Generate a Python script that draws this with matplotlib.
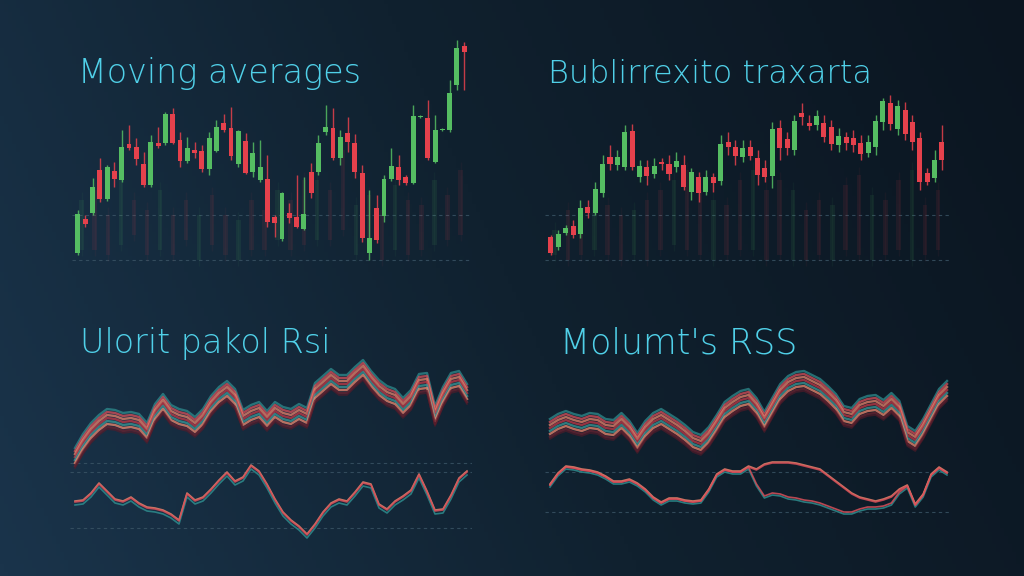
import numpy as np
import matplotlib
matplotlib.use("Agg")
import matplotlib.pyplot as plt
from matplotlib.colors import LinearSegmentedColormap

W, H = 1024, 576

# ---------------- data ----------------
titles = ["Moving averages", "Bublirrexito traxarta", "Ulorit pakol Rsi", "Molumt's RSS"]

# Panel 1 candles (open, close, high, low)
p1_open  = [47, 81, 87, 130, 101, 129, 120, 156, 153, 136, 115, 157, 157, 186, 160, 139, 150, 149, 131, 149,
            177, 172, 136, 159, 128, 120, 121, 83, 61, 87, 83, 71, 128, 128, 168, 172, 142, 167, 157, 127,
            47, 92, 84, 121, 133, 123, 117, 183, 182, 138, 170, 170, 215, 254]
p1_close = [86, 76, 113, 101, 133, 121, 153, 152, 141, 115, 158, 154, 186, 157, 139, 152, 147, 131, 162, 173,
            170, 144, 169, 127, 147, 133, 78, 77, 107, 82, 73, 86, 107, 157, 173, 142, 163, 158, 128, 62,
            62, 60, 121, 134, 120, 117, 184, 184, 142, 170, 171, 207, 252, 248]
p1_high  = [90, 85, 122, 142, 135, 138, 170, 175, 162, 148, 165, 173, 188, 192, 168, 163, 158, 155, 168, 180,
            186, 193, 170, 167, 158, 160, 145, 85, 108, 97, 125, 123, 137, 165, 195, 192, 170, 183, 166, 135,
            110, 105, 125, 152, 145, 125, 195, 185, 200, 185, 172, 220, 260, 258]
p1_low   = [45, 73, 85, 98, 99, 113, 118, 150, 135, 113, 113, 152, 155, 156, 133, 137, 142, 128, 125, 148,
            168, 140, 133, 126, 123, 118, 73, 63, 59, 77, 72, 70, 102, 125, 165, 140, 135, 148, 122, 58,
            40, 57, 78, 119, 115, 115, 116, 182, 140, 137, 169, 168, 210, 210]
p1_ghost_hi = [100, 110, 85, 120, 100, 90, 110, 85, 100, 85, 105, 85, 80, 100, 90, 110, 100, 120, 120, 110,
               150, 95, 105, 90, 115, 100, 95, 120, 105, 130]
p1_ghost_lo = [50, 50, 45, 55, 65, 45, 50, 45, 60, 40, 55, 45, 40, 50, 50, 60, 50, 55, 60, 60,
               70, 45, 55, 40, 50, 45, 50, 55, 60, 65]

# Panel 2 candles
p2_open  = [63, 53, 67, 74, 66, 93, 87, 107, 143, 135, 133, 169, 123, 133, 126, 138, 136, 133, 135, 108,
            123, 108, 123, 119, 158, 153, 143, 153, 142, 132, 124, 172, 161, 150, 187, 177, 175, 177, 173, 155,
            163, 162, 157, 147, 153, 178, 197, 171, 190, 178, 162, 127, 122, 158]
p2_close = [47, 66, 72, 65, 92, 87, 111, 136, 136, 143, 168, 133, 134, 124, 134, 136, 126, 139, 113, 128,
            107, 123, 117, 156, 153, 144, 152, 144, 125, 123, 171, 152, 152, 179, 183, 174, 184, 163, 156, 164,
            157, 155, 146, 158, 179, 199, 176, 194, 166, 158, 118, 118, 140, 140]
p2_high  = [65, 70, 75, 80, 100, 100, 118, 145, 155, 150, 175, 176, 140, 140, 142, 142, 145, 148, 145, 132,
            128, 130, 127, 165, 168, 160, 160, 160, 150, 140, 178, 180, 168, 185, 197, 185, 190, 185, 180, 172,
            168, 170, 165, 165, 185, 202, 205, 200, 198, 185, 168, 132, 150, 175]
p2_low   = [45, 50, 65, 62, 62, 82, 85, 103, 130, 130, 130, 130, 118, 115, 122, 130, 120, 128, 110, 100,
            98, 105, 108, 115, 145, 135, 138, 140, 115, 118, 112, 140, 145, 145, 175, 170, 170, 158, 150, 148,
            150, 148, 140, 143, 145, 170, 170, 165, 160, 150, 110, 115, 118, 130]
p2_ghost_hi = [70, 90, 85, 100, 95, 85, 90, 100, 110, 120, 130, 110, 100, 95, 120, 130, 110, 120, 110, 90,
               100, 95, 115, 125, 105, 100, 120, 130, 95, 110]
p2_ghost_lo = [45, 40, 45, 50, 45, 40, 45, 40, 50, 55, 50, 45, 40, 45, 50, 50, 40, 45, 40, 40,
               45, 40, 50, 45, 40, 45, 50, 40, 45, 50]

# Panel 3 (values = level units)
p3_band = [143, 157, 168, 176, 182, 181, 178, 179, 177, 168, 187, 197, 186, 182, 180, 174, 182, 195, 204, 210,
           202, 181, 186, 189, 180, 189, 184, 182, 187, 183, 208, 215, 222, 216, 216, 224, 231, 220, 211, 205,
           202, 193, 201, 217, 218, 185, 204, 218, 220, 207]
p3_osc  = [98, 99, 106, 116, 108, 100, 98, 102, 96, 92, 91, 89, 85, 79, 106, 99, 102, 110, 119, 127,
           118, 122, 134, 128, 115, 100, 87, 79, 73, 65, 75, 87, 96, 100, 98, 107, 117, 115, 95, 90,
           98, 103, 109, 125, 108, 89, 90, 104, 121, 128]
p3_levels = [137, 128, 72]

# Panel 4
p4_band = [172, 177, 180, 177, 175, 178, 177, 172, 171, 178, 170, 158, 170, 178, 182, 177, 172, 166, 159, 156,
           164, 176, 189, 195, 200, 202, 193, 179, 193, 207, 215, 219, 220, 216, 212, 205, 197, 185, 183, 192,
           195, 196, 191, 198, 190, 165, 160, 172, 187, 202, 210]
p4_osc_a = [115, 126, 133, 132, 130, 129, 127, 123, 118, 118, 120, 116, 110, 102, 97, 101, 101, 99, 98, 99,
            110, 125, 130, 128, 128, 133, 116, 104, 107, 106, 103, 102, 100, 99, 97, 94, 91, 88, 88, 91,
            93, 93, 94, 97, 108, 114, 95, 105, 125, 132, 127]
p4_osc_b = [115, 126, 133, 132, 130, 129, 127, 123, 118, 118, 120, 116, 110, 102, 97, 101, 101, 99, 98, 99,
            110, 125, 130, 128, 128, 133, 130, 135, 137, 137, 137, 136, 134, 132, 130, 124, 118, 112, 106, 102,
            100, 98, 100, 103, 110, 114, 95, 105, 125, 132, 127]
p4_levels = [128, 88]

# ---------------- style ----------------
GREEN = "#55bd62"
RED = "#e5414c"
TITLE = "#50d0e8"
GRID = "#3b5566"
BAND_COLORS = ["#2e8c8e", "#d8505a", "#e8846c", "#c23a48", "#3a9a9a", "#f08a70", "#6a2230"]
BAND_OFFS = [9, 6, 3, 0, -3, -6, -9]

plt.rcParams["font.family"] = ["DejaVu Sans"]

fig = plt.figure(figsize=(W / 100, H / 100), dpi=100)

# background gradient
bg = fig.add_axes([0, 0, 1, 1])
gx = np.linspace(0, 1, 256)[None, :]
gy = np.linspace(0, 1, 144)[:, None]
grad = 0.8 * gx + 0.2 * (1 - gy)
cmap = LinearSegmentedColormap.from_list("bg", ["#1a344b", "#10212f", "#0b1520"])
bg.imshow(grad, cmap=cmap, aspect="auto", extent=[0, 1, 0, 1], origin="upper")
bg.set_axis_off()


def px_axes(x0, y0, x1, y1):
    ax = fig.add_axes([x0 / W, 1 - y1 / H, (x1 - x0) / W, (y1 - y0) / H])
    ax.set_axis_off()
    ax.patch.set_alpha(0)
    return ax


def candles(ax, o, c, h, l, ghi, glo):
    n = len(o)
    gx_pos = np.linspace(0.5, n - 1.5, len(ghi))
    for i, (gh, gl) in enumerate(zip(ghi, glo)):
        col = RED if i % 3 else GREEN
        ax.bar(gx_pos[i], gh - gl, bottom=gl, width=0.6, color=col, alpha=0.09, zorder=1)
        ax.vlines(gx_pos[i], gl - 6, gh + 8, color=col, alpha=0.05, lw=1, zorder=1)
    for i in range(n):
        col = GREEN if c[i] >= o[i] else RED
        ax.vlines(i, l[i], h[i], color=col, lw=1.0, alpha=0.85, zorder=2)
        body = max(abs(c[i] - o[i]), 1.5)
        ax.bar(i, body, bottom=min(o[i], c[i]), width=0.68, color=col, zorder=3)


# Panel 1
ax1 = px_axes(72, 35, 470, 275)
candles(ax1, p1_open, p1_close, p1_high, p1_low, p1_ghost_hi, p1_ghost_lo)
ax1.set_xlim(-0.82, 53.8)
ax1.set_ylim(25, 265)
for lv in (85, 40):
    ax1.axhline(lv, color=GRID, lw=0.8, ls=(0, (3, 3)), alpha=0.8, zorder=0)

# Panel 2
ax2 = px_axes(545, 35, 950, 275)
candles(ax2, p2_open, p2_close, p2_high, p2_low, p2_ghost_hi, p2_ghost_lo)
ax2.set_xlim(-0.81, 54.09)
ax2.set_ylim(25, 265)
for lv in (85, 40):
    ax2.axhline(lv, color=GRID, lw=0.8, ls=(0, (3, 3)), alpha=0.8, zorder=0)


def band(ax, vals):
    t = np.arange(len(vals))
    v = np.asarray(vals, float)
    for off, col in zip(BAND_OFFS, BAND_COLORS):
        ax.plot(t, v + off, color=col, lw=1.7, alpha=0.75, solid_joinstyle="round")
    ax.plot(t, v - 11, color="#5a1a28", lw=1.2, alpha=0.6)


def osc(ax, vals, cols=("#2e8c8e", "#e8846c", "#d8505a"), offs=(-3, 1, 0)):
    t = np.arange(len(vals))
    v = np.asarray(vals, float)
    for off, col in zip(offs, cols):
        ax.plot(t, v + off, color=col, lw=1.2, alpha=0.85)


# Panel 3
ax3 = px_axes(70, 350, 472, 545)
band(ax3, p3_band)
osc(ax3, p3_osc)
for lv in p3_levels:
    ax3.axhline(lv, color=GRID, lw=0.8, ls=(0, (3, 3)), alpha=0.8, zorder=0)
ax3.set_xlim(-0.625, 49.625)
ax3.set_ylim(55, 250)

# Panel 4
ax4 = px_axes(545, 350, 952, 545)
band(ax4, p4_band)
osc(ax4, p4_osc_a, cols=("#2e8c8e", "#d8505a"), offs=(-2, 0))
osc(ax4, p4_osc_b, cols=("#e8846c", "#d8505a"), offs=(1, 0))
for lv in p4_levels:
    ax4.axhline(lv, color=GRID, lw=0.8, ls=(0, (3, 3)), alpha=0.8, zorder=0)
ax4.set_xlim(-0.63, 50.63)
ax4.set_ylim(55, 250)

# Titles
title_pos = [(78, 83), (548, 83), (80, 353), (560, 353)]
title_sizes = [24, 23, 24, 25]
for txt, (x, y), fs in zip(titles, title_pos, title_sizes):
    fig.text(x / W, 1 - y / H, txt, color=TITLE, fontsize=fs, fontweight="light",
             ha="left", va="baseline")

fig.savefig("out.png", dpi=100)
